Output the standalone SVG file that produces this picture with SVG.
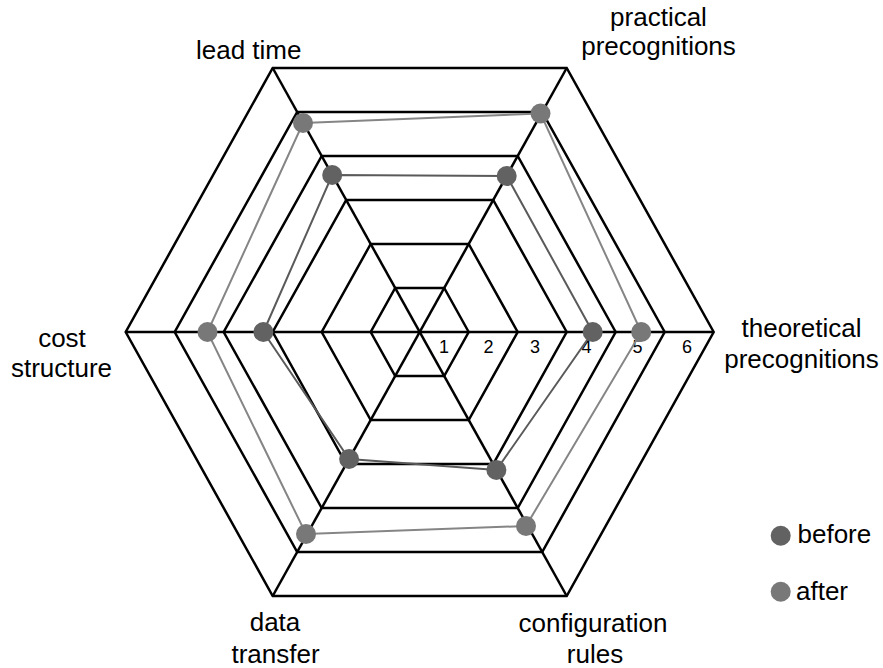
<svg xmlns="http://www.w3.org/2000/svg" width="883" height="668" viewBox="0 0 883 668">
  <style>
    .grid { fill: none; stroke: #000; stroke-width: 2.5; stroke-linejoin: miter; }
    .spoke { stroke: #000; stroke-width: 2.5; }
    .series-before { fill: none; stroke: #5a5a5a; stroke-width: 2; }
    .series-after { fill: none; stroke: #858585; stroke-width: 2; }
    .dot-before { fill: #626262; }
    .dot-after { fill: #787878; }
    .label { font-family: "Liberation Sans", Arial, sans-serif; font-size: 26px; fill: #000; text-anchor: middle; }
    .legend { font-family: "Liberation Sans", Arial, sans-serif; font-size: 26px; fill: #000; }
    .tick { font-family: "Liberation Sans", Arial, sans-serif; font-size: 18px; fill: #000; text-anchor: middle; }
  </style>
  <rect width="883" height="668" fill="#fff"/>

  <!-- concentric hexagon rings, levels 1..6 -->
  <g id="grid">
    <polygon class="grid" points="468.7,332 444.2,288 395.2,288 370.7,332 395.2,376 444.2,376"/>
    <polygon class="grid" points="517.7,332 468.7,244 370.7,244 321.7,332 370.7,420 468.7,420"/>
    <polygon class="grid" points="566.7,332 493.2,200 346.2,200 272.7,332 346.2,464 493.2,464"/>
    <polygon class="grid" points="615.7,332 517.7,156 321.7,156 223.7,332 321.7,508 517.7,508"/>
    <polygon class="grid" points="664.7,332 542.2,112 297.2,112 174.7,332 297.2,552 542.2,552"/>
    <polygon class="grid" points="713.7,332 566.7,68 272.7,68 125.7,332 272.7,596 566.7,596"/>
    <line class="spoke" x1="125.7" y1="332" x2="713.7" y2="332"/>
    <line class="spoke" x1="272.7" y1="68" x2="566.7" y2="596"/>
    <line class="spoke" x1="566.7" y1="68" x2="272.7" y2="596"/>
  </g>

  <!-- scale ticks -->
  <g id="ticks">
    <text class="tick" x="444" y="353">1</text>
    <text class="tick" x="488.5" y="353">2</text>
    <text class="tick" x="535" y="353">3</text>
    <text class="tick" x="586.5" y="353">4</text>
    <text class="tick" x="637.5" y="353">5</text>
    <text class="tick" x="687" y="353">6</text>
  </g>

  <!-- data series -->
  <g id="connectors">
    <polygon class="series-after" points="303,123 540.5,113.5 641.2,332 526,526 306,534 207.5,332"/>
    <polygon class="series-before" points="332.2,175 506.7,176 592.7,332 496.4,470 349.1,459 263.4,332"/>
  </g>

  <g id="series-after">
    <circle class="dot-after" cx="303" cy="123" r="10"/>
    <circle class="dot-after" cx="540.5" cy="113.5" r="10"/>
    <circle class="dot-after" cx="641.2" cy="332" r="10"/>
    <circle class="dot-after" cx="526" cy="526" r="10"/>
    <circle class="dot-after" cx="306" cy="534" r="10"/>
    <circle class="dot-after" cx="207.5" cy="332" r="10"/>
  </g>
  <g id="series-before">
    <circle class="dot-before" cx="332.2" cy="175" r="10"/>
    <circle class="dot-before" cx="506.7" cy="176" r="10"/>
    <circle class="dot-before" cx="592.7" cy="332" r="10"/>
    <circle class="dot-before" cx="496.4" cy="470" r="10"/>
    <circle class="dot-before" cx="349.1" cy="459" r="10"/>
    <circle class="dot-before" cx="263.4" cy="332" r="10"/>
  </g>

  <!-- axis labels -->
  <g id="label-lead-time"><text class="label" x="248.7" y="59">lead time</text></g>
  <g id="label-practical">
    <text class="label" x="658.5" y="26">practical</text>
    <text class="label" x="658.5" y="55">precognitions</text>
  </g>
  <g id="label-theoretical">
    <text class="label" x="801.5" y="337">theoretical</text>
    <text class="label" x="801.5" y="368">precognitions</text>
  </g>
  <g id="label-configuration">
    <text class="label" x="593" y="632">configuration</text>
    <text class="label" x="595" y="663">rules</text>
  </g>
  <g id="label-data-transfer">
    <text class="label" x="275" y="631">data</text>
    <text class="label" x="275.5" y="663">transfer</text>
  </g>
  <g id="label-cost">
    <text class="label" x="62" y="347">cost</text>
    <text class="label" x="61.5" y="377">structure</text>
  </g>

  <!-- legend -->
  <g id="legend">
    <circle class="dot-before" cx="780.7" cy="535.7" r="10"/>
    <text class="legend" x="797.5" y="543">before</text>
    <circle class="dot-after" cx="780.7" cy="591.7" r="10"/>
    <text class="legend" x="796" y="600">after</text>
  </g>
</svg>
